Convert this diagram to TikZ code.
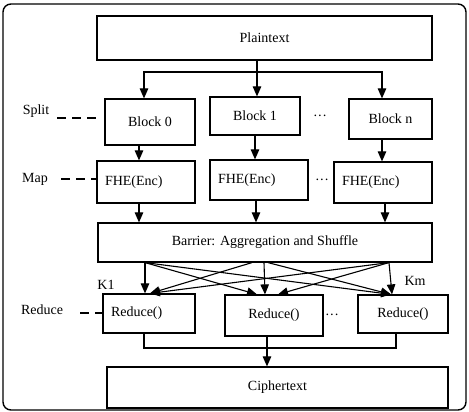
\documentclass[tikz,border=0pt]{standalone}
\usepackage{fontspec}
\setmainfont{Liberation Serif}
\usetikzlibrary{arrows.meta}

\begin{document}
\begin{tikzpicture}[x=1pt, y=-1pt, line cap=butt, line join=miter,
  font=\fontsize{14}{16}\selectfont,
  box/.style 2 args={draw, line width=1.2pt, inner sep=0pt, minimum width=#1, minimum height=#2, align=center},
  leftbox/.style 2 args={draw, line width=1.2pt, inner ysep=0pt, inner xsep=8pt, text width=#1, minimum height=#2, align=left},
  stagelbl/.style={inner sep=0pt},
  guide/.style={line width=1.1pt, dash pattern=on 9pt off 6pt},
  arr/.style={line width=1.1pt, -{Triangle[length=10pt,width=8.5pt]}}]
% MapReduce style flow, coordinates in px of the original figure
\def\frameRadius{8pt}
\providecommand{\flowFrameWidth}{1.4pt}
\useasboundingbox (0,0) rectangle (469,412);
% Outer frame
\draw[line width=\flowFrameWidth, rounded corners=\frameRadius] (3,4) rectangle (466,410);
% Input and split blocks
\node[box={335pt}{44pt}] (plain) at (264.5,38) {Plaintext};
\node[box={90pt}{46pt}] (b0) at (150,122) {Block 0};
\node[box={90pt}{38pt}] (b1) at (255,116) {Block 1};
\node[box={83pt}{40pt}] (bn) at (390.5,119) {Block n};
% Map stage
\node[leftbox={82pt}{42pt}] (f0) at (146,182) {FHE(Enc)};
\node[leftbox={82pt}{40pt}] (f1) at (259,180) {FHE(Enc)};
\node[leftbox={82pt}{41pt}] (fn) at (383,182.5) {FHE(Enc)};
% Shuffle
\node[box={334pt}{39pt}] (bar) at (265,242.5) {Barrier: Aggregation and Shuffle};
% Reduce stage
\node[leftbox={76pt}{39pt}] (r0) at (149,313.5) {Reduce()};
\node[box={98pt}{41pt}] (r1) at (274,315.5) {Reduce()};
\node[box={90pt}{38pt}] (rn) at (403,314) {Reduce()};
% Output
\node[box={341pt}{41pt}] (ciph) at (277.5,387.5) {Ciphertext};
% Stage labels and dots
\node[stagelbl] (lsplit) at (36,111) {Split};
\node[stagelbl] (lmap) at (35,179) {Map};
\node[stagelbl] (lreduce) at (42,310) {Reduce};
\node[stagelbl] (k1) at (106,285) {K1};
\node[stagelbl] (km) at (415,281) {Km};
\node[stagelbl] (d1) at (320,118) {···};
\node[stagelbl] (d2) at (322,182) {···};
\node[stagelbl] (d3) at (332,317) {···};
\draw[guide] ([xshift=8pt,yshift=-7pt]lsplit.east) -- ([xshift=-7pt,yshift=4pt]b0.west);
\draw[guide] ([xshift=13pt]lmap.east) -- (lmap.east -| f0.west);
\draw[guide] ([xshift=17pt,yshift=-3pt]lreduce.east) -- ([yshift=-3pt]lreduce.east -| r0.west);
% Plaintext -> blocks
\coordinate (fork) at (257,72);
\draw[line width=1.1pt] (fork |- plain.south) -- (fork);
\draw[arr] (fork) -- (fork |- b1.north);
\draw[arr] (fork) -| ([xshift=-6pt]b0.north);
\draw[arr] (fork) -| ([xshift=-8.5pt]bn.north);
% Blocks -> FHE -> barrier
\draw[arr] ([xshift=-11pt]b0.south) -- ([xshift=-11pt]b0.south |- f0.north);
\draw[arr] (b1.south) -- (b1.south |- f1.north);
\draw[arr] ([xshift=-8.5pt]bn.south) -- ([xshift=-8.5pt]bn.south |- fn.north);
\draw[arr] ([xshift=-7pt]f0.south) -- ([xshift=-7pt]f0.south |- bar.north);
\draw[arr] ([xshift=-3pt]f1.south) -- ([xshift=-3pt]f1.south |- bar.north);
\draw[arr] ([xshift=2pt]fn.south) -- ([xshift=2pt]fn.south |- bar.north);
% Barrier -> reducers (all pairs)
\foreach \sx/\dst/\dx in {-120/r0/-4, -120/r1/-17, -120/rn/-12, -13/r0/1, -1/r1/-9, 3/rn/-12, 124/r0/1, 124/r1/4, 124/rn/-11}
  \draw[arr] ([xshift=\sx pt]bar.south) -- ([xshift=\dx pt]\dst.north);
% Reducers -> ciphertext
\coordinate (merge) at (267,348);
\draw[line width=1.1pt] ([xshift=-5pt]r0.south) |- (merge) -| ([xshift=-7pt]rn.south);
\draw[arr] (r1.south -| merge) -- (merge |- ciph.north);
\end{tikzpicture}
\end{document}
